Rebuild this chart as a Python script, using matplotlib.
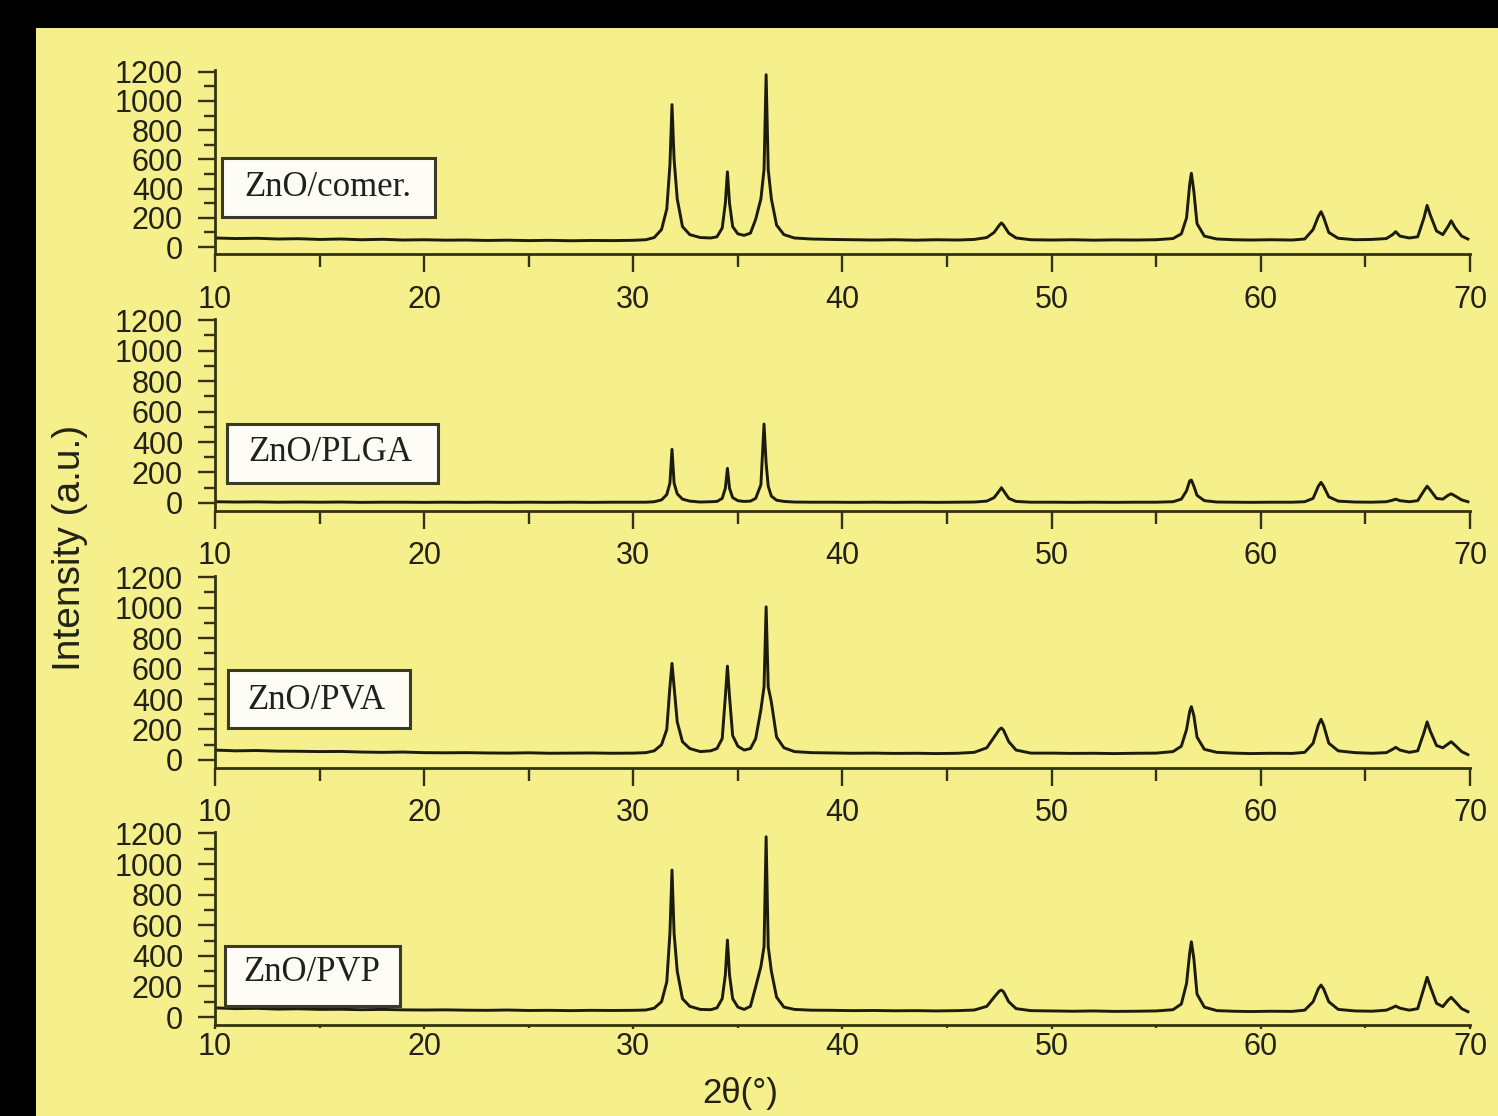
import matplotlib.pyplot as plt
from matplotlib.patches import Rectangle

# 2θ grid shared by all four patterns (deg)
two_theta = [10, 11, 12, 13, 14, 15, 16, 17, 18, 19, 20, 21, 22, 23, 24, 25, 26, 27, 28, 29, 30,
             30.6, 31.0, 31.35, 31.6, 31.75, 31.85, 31.95, 32.1, 32.35, 32.7, 33.2, 33.7,
             34.0, 34.25, 34.4, 34.5, 34.6, 34.75, 35.0, 35.3,
             35.6, 35.85, 36.1, 36.25, 36.35, 36.45, 36.6, 36.85, 37.2, 37.7, 38.5,
             39.5, 40.5, 41.5, 42.5, 43.5, 44.5, 45.5, 46.3, 46.9, 47.25, 47.5, 47.6, 47.7, 47.95, 48.3, 49.0,
             50, 51, 52, 53, 54, 55, 55.8, 56.2, 56.45, 56.6, 56.68, 56.8, 56.95, 57.3, 57.9,
             58.7, 59.5, 60.5, 61.5, 62.1, 62.5, 62.75, 62.88, 63.0, 63.25, 63.7, 64.5,
             65.3, 66.0, 66.3, 66.45, 66.65, 67.1, 67.5, 67.8, 67.95, 68.1, 68.4, 68.7, 68.95, 69.1, 69.3, 69.6, 69.9]

# intensities (a.u.)
int_comer = [62, 58, 60, 55, 57, 52, 55, 50, 53, 48, 50, 47, 48, 45, 47, 44, 46, 43, 45, 44, 46,
             50, 65, 120, 260, 560, 975, 600, 330, 140, 85, 65, 62,
             70, 130, 300, 515, 300, 140, 90, 80,
             95, 190, 330, 530, 1180, 530, 330, 150, 85, 62, 55,
             52, 50, 48, 50, 47, 50, 48, 52, 65, 100, 150, 165, 150, 95, 62, 50,
             48, 50, 47, 49, 48, 50, 58, 90, 200, 430, 505, 380, 160, 75, 55,
             50, 48, 50, 48, 55, 120, 210, 242, 205, 100, 60, 50,
             52, 58, 85, 105, 75, 62, 70, 200, 285, 220, 110, 85, 140, 180, 130, 75, 55]

int_plga = [8, 6, 7, 5, 6, 5, 6, 4, 5, 5, 4, 5, 4, 5, 4, 5, 4, 5, 4, 5, 5,
            5, 8, 20, 55, 130, 352, 130, 60, 25, 12, 6, 8,
            10, 30, 96, 227, 96, 35, 15, 10,
            12, 30, 120, 518, 260, 110, 45, 18, 10, 6, 5,
            5, 4, 5, 4, 5, 4, 5, 6, 12, 35, 80, 100, 80, 30, 10, 5,
            5, 4, 5, 4, 5, 5, 8, 25, 80, 145, 150, 110, 50, 15, 6,
            5, 4, 5, 5, 8, 30, 110, 135, 110, 40, 12, 6,
            5, 8, 18, 25, 15, 8, 15, 80, 110, 85, 30, 25, 50, 60, 45, 20, 8]

int_pva = [65, 60, 62, 58, 57, 55, 56, 52, 50, 52, 48, 47, 48, 46, 45, 47, 44, 45, 46, 44, 45,
           48, 60, 100, 200, 480, 634, 480, 250, 120, 75, 55, 60,
           75, 140, 415, 616, 415, 160, 90, 65,
           75, 140, 330, 480, 1005, 480, 380, 150, 80, 55, 48,
           46, 44, 45, 43, 44, 42, 44, 50, 80, 150, 200, 210, 195, 120, 65, 45,
           45, 43, 44, 42, 44, 45, 55, 90, 200, 320, 350, 290, 150, 70, 50,
           45, 42, 44, 43, 50, 110, 230, 267, 230, 110, 60, 48,
           44, 48, 70, 83, 65, 50, 60, 180, 250, 190, 95, 80, 105, 120, 95, 55, 35]

int_pvp = [60, 55, 57, 52, 54, 50, 51, 48, 50, 47, 46, 47, 45, 44, 46, 43, 44, 42, 44, 43, 44,
           46, 58, 100, 230, 547, 960, 547, 300, 120, 70, 50, 48,
           60, 120, 275, 503, 275, 120, 65, 50,
           70, 198, 330, 460, 1178, 460, 300, 130, 65, 50, 45,
           44, 42, 43, 41, 42, 40, 42, 46, 70, 130, 170, 176, 165, 100, 55, 42,
           40, 38, 40, 37, 38, 40, 48, 85, 220, 420, 492, 380, 150, 65, 42,
           38, 36, 38, 37, 45, 100, 185, 209, 185, 100, 50, 40,
           38, 45, 62, 72, 58, 45, 55, 190, 260, 200, 90, 68, 110, 129, 100, 55, 35]

sample_names = ['ZnO/comer.', 'ZnO/PLGA', 'ZnO/PVA', 'ZnO/PVP']
intensities = [int_comer, int_plga, int_pva, int_pvp]

x_ticks = [10, 20, 30, 40, 50, 60, 70]
y_ticks = [0, 200, 400, 600, 800, 1000, 1200]

yellow = '#f5ef8c'
ink = '#1c1c0c'
axis_col = '#34330f'

fig = plt.figure(figsize=(14.98, 11.16), dpi=100)
fig.patch.set_facecolor('black')
# yellow page inside the black border
page = Rectangle((36 / 1498, 0), 1 - 36 / 1498, 1 - 28 / 1116,
                 transform=fig.transFigure, facecolor=yellow, edgecolor='none')
page.set_zorder(-10)
fig.add_artist(page)

# axes rectangles [left, bottom, width, height] in figure fraction
panel_rects = [[0.1435, 0.7721, 0.8378, 0.1649],
               [0.1435, 0.5425, 0.8378, 0.1720],
               [0.1435, 0.3122, 0.8378, 0.1720],
               [0.1435, 0.0818, 0.8378, 0.1728]]

# label boxes: (x0, x1, y0, y1) in data units, and text centre
boxes = [(10.33, 20.53, 205, 610, 15.4, 410),
         (10.57, 20.67, 131, 518, 15.5, 328),
         (10.62, 19.33, 210, 590, 14.85, 393),
         (10.48, 18.85, 72, 466, 14.65, 289)]

tick_font = {'family': ['Liberation Sans', 'DejaVu Sans'], 'size': 22}

for i, (rect, y, name, box) in enumerate(zip(panel_rects, intensities, sample_names, boxes)):
    ax = fig.add_axes(rect)
    ax.set_facecolor('none')
    ax.plot(two_theta, y, color=ink, lw=2.1, solid_joinstyle='round')

    ax.set_xlim(10, 70)
    ax.set_ylim(-50, 1210)
    for s in ['top', 'right']:
        ax.spines[s].set_visible(False)
    for s in ['left', 'bottom']:
        ax.spines[s].set_color(axis_col)
        ax.spines[s].set_linewidth(2)

    ax.set_xticks(x_ticks)
    ax.set_xticks([15, 25, 35, 45, 55, 65], minor=True)
    ax.set_yticks(y_ticks)
    ax.set_yticks([100, 300, 500, 700, 900, 1100], minor=True)
    ax.set_xticklabels([str(t) for t in x_ticks], fontdict=tick_font)
    ax.set_yticklabels([str(t) for t in y_ticks], fontdict=tick_font)

    ax.tick_params(axis='y', which='major', direction='out', length=12, width=1.7,
                   color=axis_col, pad=11, labelcolor='#222218')
    ax.tick_params(axis='y', which='minor', direction='out', length=8, width=1.7, color=axis_col)
    if i < 3:
        ax.tick_params(axis='x', which='major', direction='out', length=13, width=1.7,
                       color=axis_col, pad=9, labelcolor='#222218')
        ax.tick_params(axis='x', which='minor', direction='out', length=9, width=1.7, color=axis_col)
    else:
        ax.tick_params(axis='x', which='major', direction='out', length=3, width=1.7,
                       color=axis_col, pad=2, labelcolor='#222218')
        ax.tick_params(axis='x', which='minor', direction='out', length=2, width=1.7, color=axis_col)

    x0, x1, y0, y1, tx, ty = box
    ax.add_patch(Rectangle((x0, y0), x1 - x0, y1 - y0, facecolor='#fdfdf6',
                           edgecolor='#3a3a26', linewidth=2.2, zorder=3, clip_on=False))
    ax.text(tx, ty, name, ha='center', va='center', zorder=4, color='#202020',
            family=['Liberation Serif', 'DejaVu Serif'], fontsize=25)

fig.text(70 / 1498, 1 - 548 / 1116, 'Intensity (a.u.)', rotation=90, ha='center', va='center',
         family=['Liberation Sans', 'DejaVu Sans'], fontsize=28, color='#222218')
fig.text(740 / 1498, 1 - 1093 / 1116, '2θ(°)', ha='center', va='center',
         family=['Liberation Sans', 'DejaVu Sans'], fontsize=25, color='#222218')

plt.savefig('out.png', dpi=100, facecolor=fig.get_facecolor())
